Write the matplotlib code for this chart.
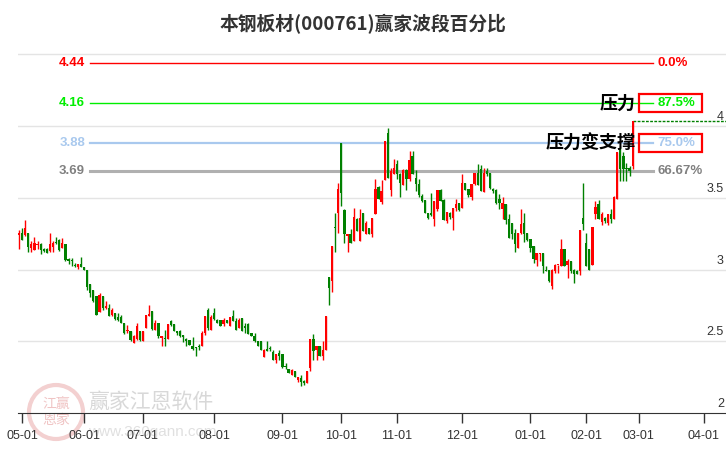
import matplotlib
matplotlib.use("Agg")
import matplotlib.pyplot as plt
from matplotlib.patches import Rectangle, Ellipse

plt.rcParams['font.family'] = ['Noto Sans CJK SC', 'DejaVu Sans']

# daily candles, 2024-04-30 .. 2025-02-26 (trading-day index)
opens = [3.241, 3.257, 3.241, 3.257, 3.152, 3.136, 3.170, 3.175, 3.140, 3.140,
         3.129, 3.157, 3.190, 3.203, 3.152, 3.175, 3.070, 3.060, 3.030, 3.017,
         3.040, 3.017, 2.994, 2.900, 2.854, 2.819, 2.705, 2.819, 2.733, 2.733,
         2.686, 2.698, 2.667, 2.667, 2.628, 2.570, 2.574, 2.488, 2.518, 2.570,
         2.504, 2.593, 2.674, 2.714, 2.581, 2.628, 2.523, 2.520, 2.518, 2.643,
         2.620, 2.570, 2.573, 2.545, 2.515, 2.506, 2.469, 2.460, 2.460, 2.464,
         2.557, 2.720, 2.580, 2.697, 2.650, 2.650, 2.620, 2.650, 2.604, 2.673,
         2.643, 2.592, 2.662, 2.604, 2.620, 2.557, 2.538, 2.503, 2.503, 2.387,
         2.447, 2.450, 2.424, 2.370, 2.417, 2.410, 2.330, 2.308, 2.266, 2.294,
         2.231, 2.247, 2.224, 2.208, 2.312, 2.517, 2.440, 2.464, 2.394, 2.436,
         2.949, 2.919, 3.299, 3.397, 3.881, 3.415, 3.232, 3.245, 3.199, 3.350,
         3.199, 3.397, 3.245, 3.292, 3.245, 3.385, 3.578, 3.471, 3.625, 3.951,
         3.555, 3.665, 3.734, 3.665, 3.590, 3.695, 3.630, 3.788, 3.641, 3.595,
         3.513, 3.485, 3.392, 3.397, 3.355, 3.420, 3.555, 3.483, 3.339, 3.397,
         3.362, 3.432, 3.462, 3.432, 3.602, 3.560, 3.508, 3.595, 3.672, 3.699,
         3.541, 3.688, 3.672, 3.560, 3.553, 3.490, 3.425, 3.455, 3.350, 3.327,
         3.252, 3.152, 3.252, 3.327, 3.252, 3.210, 3.164, 3.066, 3.106, 3.112,
         3.000, 3.000, 2.884, 2.989, 3.030, 3.024, 3.140, 3.029, 3.059, 2.996,
         2.989, 2.989, 3.362, 3.187, 3.140, 3.035, 3.385, 3.455, 3.329, 3.360,
         3.322, 3.385, 3.350, 3.490, 3.840, 3.790, 3.710, 3.710, 3.723]
highs = [3.273, 3.292, 3.343, 3.257, 3.199, 3.229, 3.200, 3.187, 3.150, 3.152,
         3.257, 3.199, 3.229, 3.210, 3.220, 3.175, 3.080, 3.080, 3.047, 3.040,
         3.087, 3.017, 3.000, 2.900, 2.860, 2.819, 2.833, 2.819, 2.784, 2.763,
         2.733, 2.698, 2.698, 2.686, 2.628, 2.616, 2.574, 2.542, 2.628, 2.570,
         2.570, 2.686, 2.751, 2.714, 2.650, 2.628, 2.540, 2.580, 2.621, 2.650,
         2.620, 2.573, 2.580, 2.545, 2.522, 2.506, 2.527, 2.460, 2.480, 2.573,
         2.673, 2.732, 2.680, 2.732, 2.655, 2.650, 2.662, 2.650, 2.667, 2.720,
         2.662, 2.662, 2.662, 2.627, 2.627, 2.557, 2.557, 2.503, 2.503, 2.447,
         2.503, 2.466, 2.440, 2.410, 2.440, 2.410, 2.347, 2.308, 2.308, 2.294,
         2.254, 2.266, 2.231, 2.294, 2.517, 2.550, 2.464, 2.464, 2.499, 2.678,
         2.949, 3.164, 3.397, 3.606, 3.881, 3.424, 3.245, 3.280, 3.432, 3.362,
         3.420, 3.397, 3.339, 3.292, 3.362, 3.630, 3.583, 3.625, 3.893, 3.986,
         3.711, 3.769, 3.762, 3.676, 3.699, 3.704, 3.823, 3.823, 3.695, 3.630,
         3.525, 3.485, 3.397, 3.532, 3.478, 3.555, 3.560, 3.490, 3.401, 3.401,
         3.432, 3.490, 3.467, 3.665, 3.602, 3.560, 3.595, 3.672, 3.734, 3.727,
         3.711, 3.711, 3.676, 3.565, 3.560, 3.525, 3.508, 3.455, 3.385, 3.327,
         3.280, 3.257, 3.420, 3.392, 3.252, 3.210, 3.164, 3.112, 3.112, 3.112,
         3.024, 3.000, 3.005, 3.042, 3.035, 3.210, 3.140, 3.075, 3.059, 3.005,
         3.000, 3.275, 3.602, 3.257, 3.140, 3.299, 3.478, 3.483, 3.400, 3.365,
         3.390, 3.420, 3.510, 3.820, 3.860, 3.816, 3.746, 3.720, 4.037]
lows = [3.145, 3.206, 3.234, 3.124, 3.124, 3.136, 3.140, 3.110, 3.120, 3.112,
        3.124, 3.124, 3.175, 3.130, 3.152, 3.060, 3.040, 3.025, 3.017, 3.005,
        3.017, 2.994, 2.854, 2.807, 2.775, 2.686, 2.705, 2.720, 2.728, 2.674,
        2.674, 2.650, 2.644, 2.628, 2.551, 2.558, 2.500, 2.488, 2.511, 2.504,
        2.504, 2.593, 2.674, 2.581, 2.581, 2.523, 2.465, 2.465, 2.518, 2.604,
        2.569, 2.545, 2.527, 2.494, 2.464, 2.476, 2.440, 2.400, 2.440, 2.464,
        2.545, 2.580, 2.580, 2.650, 2.627, 2.604, 2.604, 2.627, 2.604, 2.638,
        2.580, 2.592, 2.569, 2.557, 2.550, 2.534, 2.494, 2.464, 2.440, 2.387,
        2.429, 2.433, 2.370, 2.347, 2.370, 2.317, 2.307, 2.277, 2.266, 2.254,
        2.215, 2.191, 2.196, 2.208, 2.294, 2.370, 2.370, 2.394, 2.370, 2.436,
        2.751, 2.842, 3.122, 3.257, 3.443, 3.187, 3.122, 3.182, 3.199, 3.269,
        3.199, 3.269, 3.245, 3.245, 3.229, 3.385, 3.490, 3.455, 3.625, 3.641,
        3.513, 3.665, 3.634, 3.506, 3.590, 3.555, 3.618, 3.665, 3.548, 3.508,
        3.471, 3.392, 3.355, 3.373, 3.303, 3.408, 3.478, 3.345, 3.327, 3.350,
        3.276, 3.408, 3.408, 3.432, 3.555, 3.508, 3.485, 3.588, 3.588, 3.548,
        3.541, 3.653, 3.560, 3.536, 3.455, 3.425, 3.355, 3.315, 3.222, 3.210,
        3.122, 3.152, 3.245, 3.192, 3.199, 3.122, 3.047, 3.024, 3.059, 2.977,
        2.989, 2.912, 2.861, 2.977, 2.977, 3.024, 3.024, 2.942, 2.977, 2.907,
        2.966, 2.959, 3.275, 3.024, 2.996, 3.035, 3.350, 3.350, 3.310, 3.327,
        3.310, 3.327, 3.350, 3.490, 3.618, 3.618, 3.618, 3.653, 3.700]
closes = [3.257, 3.206, 3.292, 3.159, 3.175, 3.187, 3.180, 3.136, 3.130, 3.117,
          3.180, 3.187, 3.185, 3.136, 3.187, 3.066, 3.063, 3.058, 3.024, 3.040,
          3.017, 2.998, 2.877, 2.837, 2.784, 2.686, 2.826, 2.733, 2.744, 2.674,
          2.721, 2.658, 2.651, 2.628, 2.558, 2.580, 2.511, 2.535, 2.605, 2.511,
          2.570, 2.686, 2.690, 2.588, 2.628, 2.535, 2.540, 2.518, 2.621, 2.615,
          2.569, 2.560, 2.534, 2.527, 2.499, 2.476, 2.445, 2.452, 2.459, 2.557,
          2.673, 2.592, 2.667, 2.657, 2.627, 2.604, 2.650, 2.627, 2.667, 2.638,
          2.580, 2.650, 2.573, 2.592, 2.550, 2.534, 2.499, 2.464, 2.440, 2.440,
          2.433, 2.447, 2.370, 2.410, 2.394, 2.324, 2.324, 2.277, 2.300, 2.254,
          2.254, 2.215, 2.208, 2.294, 2.517, 2.429, 2.464, 2.394, 2.440, 2.678,
          2.872, 3.164, 3.290, 3.560, 3.532, 3.245, 3.245, 3.182, 3.369, 3.269,
          3.362, 3.269, 3.327, 3.245, 3.362, 3.560, 3.490, 3.548, 3.893, 3.641,
          3.688, 3.711, 3.665, 3.606, 3.695, 3.630, 3.765, 3.665, 3.595, 3.518,
          3.478, 3.392, 3.359, 3.378, 3.478, 3.555, 3.478, 3.345, 3.401, 3.366,
          3.432, 3.455, 3.415, 3.602, 3.555, 3.518, 3.595, 3.670, 3.588, 3.548,
          3.676, 3.665, 3.571, 3.548, 3.462, 3.462, 3.462, 3.345, 3.222, 3.245,
          3.175, 3.252, 3.315, 3.245, 3.206, 3.152, 3.070, 3.112, 3.112, 3.024,
          2.989, 2.919, 3.000, 3.035, 3.035, 3.140, 3.024, 3.059, 2.989, 2.966,
          2.966, 3.275, 3.315, 3.024, 3.000, 3.299, 3.439, 3.350, 3.385, 3.340,
          3.385, 3.350, 3.509, 3.816, 3.700, 3.700, 3.700, 3.688, 4.037]

# first trading day of each month (trading-day index)
tick_pos = [1, 21, 40, 63, 85, 104, 122, 143, 165, 183, 200, 221]
tick_labels = ['05-01', '06-01', '07-01', '08-01', '09-01', '10-01',
               '11-01', '12-01', '01-01', '02-01', '03-01', '04-01']

levels = [4.44, 4.16, 3.88, 3.69]
level_pcts = ['0.0%', '87.5%', '75.0%', '66.67%']
level_colors = ['#ff0000', '#00ee00', '#a9c9ee', '#b0b0b0']
level_text_colors = ['#ff0000', '#00ee00', '#a9c9ee', '#808080']
level_widths = [1.0, 1.0, 1.6, 2.2]

right_ticks = [2, 2.5, 3, 3.5, 4]
grid_vals = [2.5, 3, 3.5, 4, 4.5]

fig = plt.figure(figsize=(7.26, 4.5), dpi=100)
ax = fig.add_axes([18 / 726, 37 / 450, 708 / 726, 373 / 450])
ax.patch.set_alpha(0)
ax.set_xlim(-0.3, 228.1)
ax.set_ylim(2.0, 4.6)

# watermark
fig.patches.append(Ellipse((56 / 726, 1 - 412 / 450), 54 / 726, 54 / 450,
                           transform=fig.transFigure, fill=False,
                           edgecolor='#f3d0d0', lw=3, zorder=-2))
fig.text(56 / 726, 1 - 412 / 450, '江赢\n恩家', ha='center', va='center',
         fontsize=10, color='#f0c4c4', zorder=-1, linespacing=1.1)
fig.text(88 / 726, 1 - 402 / 450, '赢家江恩软件', ha='left', va='center',
         fontsize=15, color='#d8d8d8', zorder=-1)
fig.text(88 / 726, 1 - 432 / 450, 'www.360gann.com', ha='left', va='center',
         fontsize=11, color='#e0e0e0', zorder=-1, family='Liberation Sans')

for v in grid_vals:
    ax.axhline(v, color='#e4e4e4', lw=1, zorder=0)

for i in range(len(closes)):
    o, h, l, c = opens[i], highs[i], lows[i], closes[i]
    col = '#ff0000' if c >= o else '#008000'
    ax.vlines(i, l, h, color=col, lw=1, zorder=2)
    ax.bar(i, max(abs(c - o), 0.006), bottom=min(o, c), width=0.72,
           color=col, lw=0, zorder=3)

ax.hlines(closes[-1], len(closes) - 1, 228.1, colors='#008000', lw=1,
          linestyles=(0, (2, 1)), zorder=2)

yt = ax.get_yaxis_transform()
for v, p, lc, tc, w in zip(levels, level_pcts, level_colors,
                           level_text_colors, level_widths):
    ax.axhline(v, xmin=0.1017, xmax=0.897, color=lc, lw=w, zorder=1)
    ax.text(0.0946, v, f'{v:.2f}', transform=yt, ha='right', va='center',
            fontsize=9.5, fontweight='bold', color=tc, family='Liberation Sans')
    ax.text(0.903, v, p, transform=yt, ha='left', va='center',
            fontsize=9.5, fontweight='bold', color=tc, family='Liberation Sans')

for v in levels[1:3]:
    ax.add_patch(Rectangle((0.877, v - 0.063), 0.089, 0.126, transform=yt,
                           fill=False, edgecolor='#ff0000', lw=1.6, zorder=4))

ax.text(0.873, levels[1], '压力', transform=yt, ha='right', va='center',
        fontsize=13, fontweight='bold', color='black', zorder=5)
ax.text(0.873, levels[2], '压力变支撑', transform=yt, ha='right', va='center',
        fontsize=13, fontweight='bold', color='black', zorder=5)

for v in right_ticks:
    ax.text(0.997, v + 0.02, f'{v:g}', transform=yt, ha='right', va='bottom',
            fontsize=9, color='#333333', family='Liberation Sans')

ax.set_yticks([])
ax.set_xticks(tick_pos)
ax.set_xticklabels(tick_labels, family='Liberation Sans', fontsize=9,
                   color='#333333')
ax.tick_params(axis='x', length=7, width=1, color='#333333', pad=5)
for s in ['left', 'right', 'top']:
    ax.spines[s].set_visible(False)
ax.spines['bottom'].set_color('#333333')

fig.text(0.5, 1 - 24 / 450, '本钢板材(000761)赢家波段百分比', ha='center',
         va='center', fontsize=13.5, fontweight='bold', color='#333333')

fig.savefig('out.png', dpi=100, facecolor='white')
